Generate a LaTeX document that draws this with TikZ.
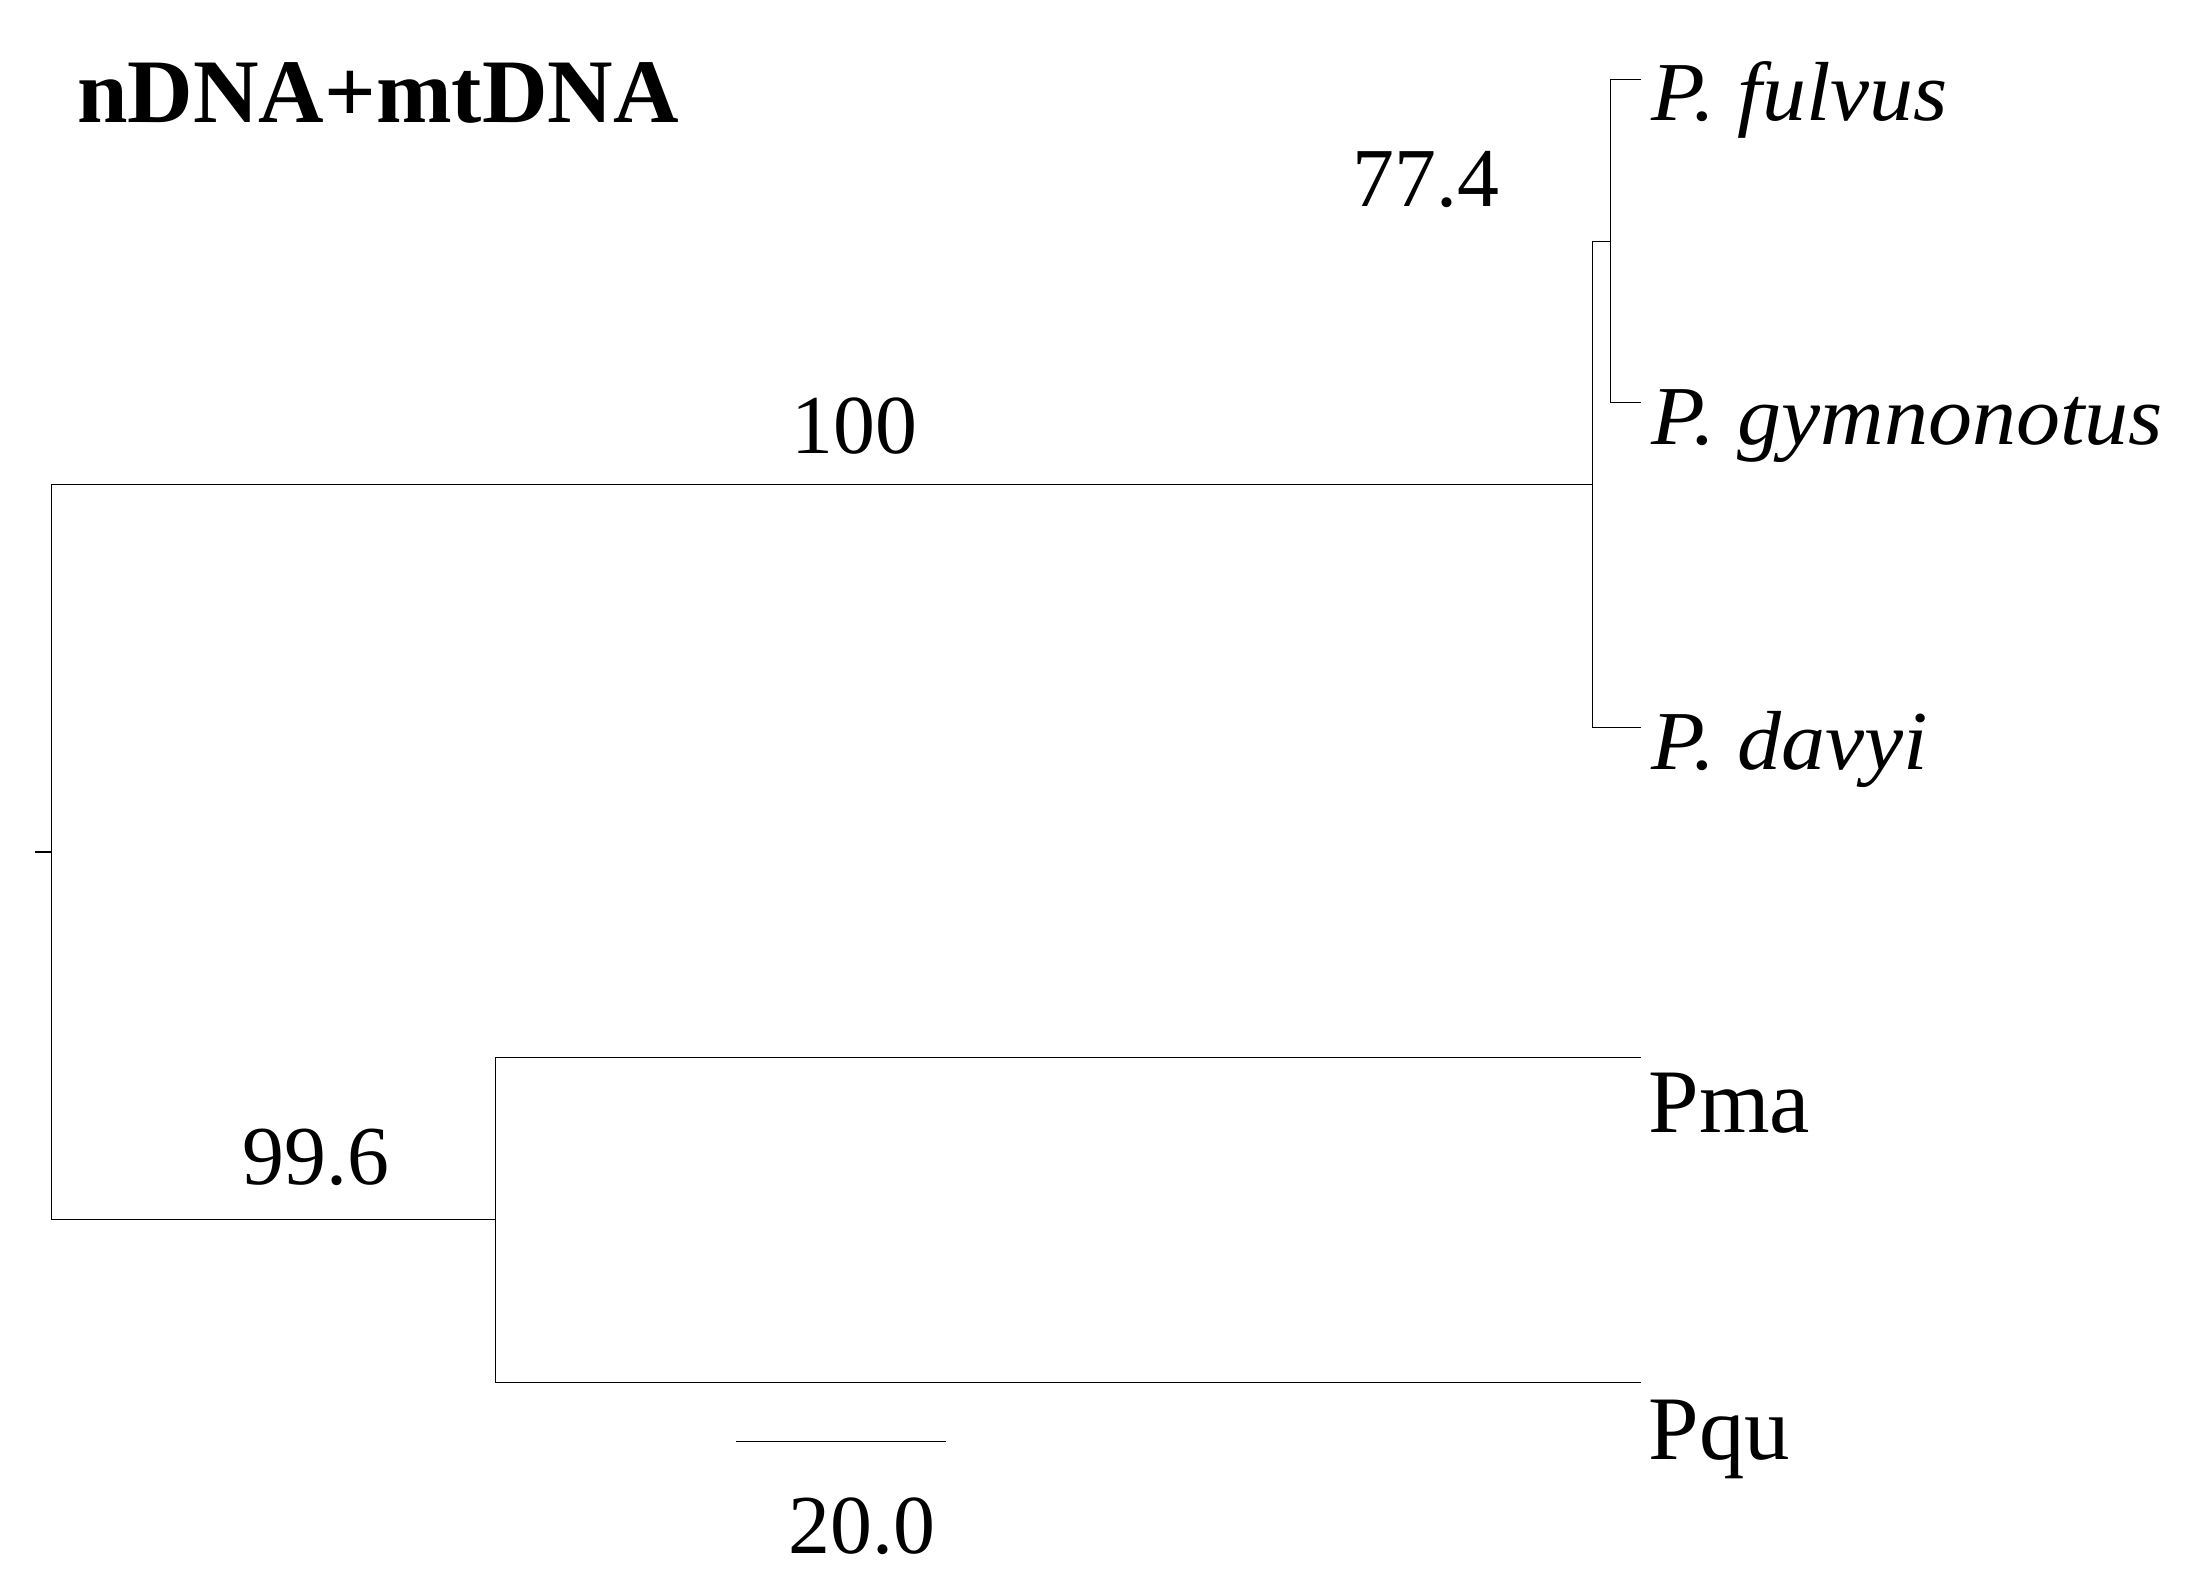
\documentclass[tikz,border=0pt]{standalone}
\usepackage{fontspec}
\setmainfont{Liberation Serif}
\newfontfamily\tipit{Liberation Serif}[FakeStretch=1.05]
\begin{document}
\begin{tikzpicture}[x=0.5pt,y=-0.5pt,
  branch/.style={line width=0.45pt,black},
  lbl/.style={inner sep=0pt,anchor=base,font=\fontsize{30}{36}\selectfont},
  tiplbl/.style={inner sep=0pt,anchor=base west,font=\tipit\fontsize{30}{36}\selectfont\itshape},
  tiprom/.style={inner sep=0pt,anchor=base west,font=\fontsize{32.5}{38}\selectfont}]
\useasboundingbox (0,0) rectangle (1568,1140);
% tree coordinates
\coordinate (rs) at (25,610);
\coordinate (r) at (37,610);
\coordinate (a) at (1140,347);
\coordinate (b) at (355,873);
\coordinate (c) at (1153,173);
\coordinate (tf) at (1175,57);
\coordinate (tg) at (1175,288);
\coordinate (td) at (1175,521);
\coordinate (tm) at (1175,757);
\coordinate (tq) at (1175,990);
\coordinate (s1) at (527,1032);
\coordinate (s2) at (677,1032);
% branches
\draw[branch] (rs) -- (r);
\draw[branch] (r) |- (a);
\draw[branch] (r) |- (b);
\draw[branch] (a) |- (c);
\draw[branch] (a) |- (td);
\draw[branch] (c) |- (tf);
\draw[branch] (c) |- (tg);
\draw[branch] (b) |- (tm);
\draw[branch] (b) |- (tq);
\draw[branch] (s1) -- (s2);
% labels
\node[inner sep=0pt,anchor=base west,font=\fontsize{32.5}{38}\selectfont\bfseries] (title) at (55,88) {nDNA+mtDNA};
\node[tiplbl] (lf) at (1182,86) {P. fulvus};
\node[tiplbl] (lg) at (1182,318) {P. gymnonotus};
\node[tiplbl] (ld) at (1182,551) {P. davyi};
\node[tiprom] (lm) at (1180,811) {Pma};
\node[tiprom] (lq) at (1180,1045) {Pqu};
\node[lbl] (b774) at (1021,148) {77.4};
\node[lbl] (b100) at (612,325) {100};
\node[lbl] (b996) at (226,848) {99.6};
\node[lbl] (sc) at (617,1112) {20.0};
\end{tikzpicture}
\end{document}
